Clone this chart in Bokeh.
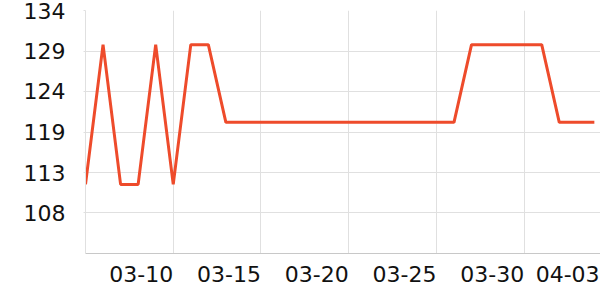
from bokeh.plotting import figure
from bokeh.models import Range1d, FixedTicker
from bokeh.embed import file_html
from bokeh.resources import INLINE

dates = ["03-05", "03-06", "03-07", "03-08", "03-09", "03-10", "03-11", "03-12",
         "03-13", "03-14", "03-15", "03-16", "03-17", "03-18", "03-19", "03-20",
         "03-21", "03-22", "03-23", "03-24", "03-25", "03-26", "03-27", "03-28",
         "03-29", "03-30", "03-31", "04-01", "04-02", "04-03"]
values = [112, 130, 112, 112, 130, 112, 130, 130,
          120, 120, 120, 120, 120, 120, 120, 120,
          120, 120, 120, 120, 120, 120, 130, 130,
          130, 130, 130, 120, 120, 120]
y_ticks = [108.32, 113.53, 118.75, 123.97, 129.18, 134.4]
y_tick_labels = ["108", "113", "119", "124", "129", "134"]
x_grid_idx = [0, 5, 10, 15, 20, 25]
x_label_idx = [5, 10, 15, 20, 25, 29]

xs = list(range(len(dates)))
Y0, Y1 = 103.1, 134.4
X0, X1 = 0, 29.35

p = figure(width=600, height=300, output_backend="svg", toolbar_location=None,
           x_range=Range1d(X0, X1), y_range=Range1d(Y0, Y1),
           min_border_left=85, min_border_right=0, min_border_top=10, min_border_bottom=47)
p.outline_line_color = None
p.background_fill_color = "white"
p.border_fill_color = "white"

p.line(xs, values, line_color="#ee4b2b", line_width=3)

# x axis labels are right-aligned to their tick in the reference:
# place each (centred) label half its width to the left of the tick.
px_per_day = (600 - 85) / (X1 - X0)
half_label = 32.0 / px_per_day
label_pos = [i - half_label + (0.3 if i == 29 else 0.0) for i in x_label_idx]
p.xaxis.ticker = FixedTicker(ticks=label_pos)
p.xaxis.major_label_overrides = {pos: dates[i] for pos, i in zip(label_pos, x_label_idx)}
p.xaxis.major_label_text_font = "DejaVu Sans"
p.xaxis.major_label_text_font_size = "22px"
p.xaxis.major_label_text_color = "#111111"
p.xaxis.major_label_standoff = 12
p.xaxis.axis_line_color = "#c8c8c8"
p.xaxis.major_tick_line_color = None
p.xaxis.major_tick_out = 0
p.xaxis.major_tick_in = 0
p.xaxis.minor_tick_line_color = None

p.yaxis.ticker = FixedTicker(ticks=y_ticks)
p.yaxis.major_label_overrides = {t: l for t, l in zip(y_ticks, y_tick_labels)}
p.yaxis.major_label_text_font = "DejaVu Sans"
p.yaxis.major_label_text_font_size = "22px"
p.yaxis.major_label_text_color = "#111111"
p.yaxis.major_label_standoff = 18
p.yaxis.axis_line_color = "#e0e0e0"
p.yaxis.major_tick_line_color = "#e0e0e0"
p.yaxis.major_tick_out = 2
p.yaxis.major_tick_in = 0
p.yaxis.minor_tick_line_color = None

p.xgrid.ticker = FixedTicker(ticks=x_grid_idx)
p.xgrid.grid_line_color = "#e0e0e0"
p.ygrid.ticker = FixedTicker(ticks=y_ticks)
p.ygrid.grid_line_color = "#e0e0e0"

open("out.html", "w").write(file_html(p, INLINE))
